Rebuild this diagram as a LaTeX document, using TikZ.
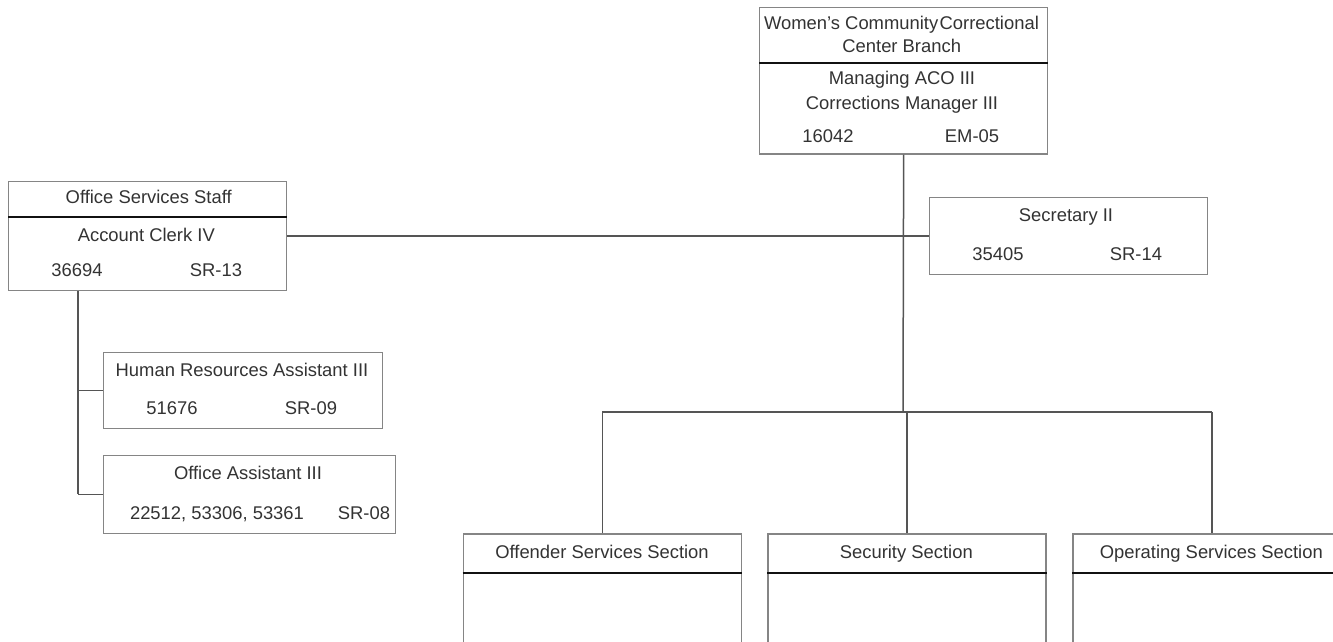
\documentclass[tikz,border=0pt]{standalone}
\usepackage{fontspec}
\setmainfont{Liberation Sans}
\definecolor{boxgray}{HTML}{858585}
\definecolor{linegray}{HTML}{555555}
\definecolor{textgray}{HTML}{333333}
\definecolor{divblack}{HTML}{111111}
\tikzset{
  box/.style={draw=boxgray, line width=1.3pt, rectangle, anchor=north west, inner sep=0pt, fill=white},
  txt/.style={font=\fontsize{18.4}{22}\selectfont, text=textgray, inner sep=0pt, anchor=base},
  conn/.style={draw=linegray, line width=1.5pt},
  divider/.style={draw=divblack, line width=2pt},
}
\begin{document}
\begin{tikzpicture}[x=1pt,y=-1pt]
\useasboundingbox (0,0) rectangle (1333,642);
\clip (0,0) rectangle (1333,642);
\fill[white] (0,0) rectangle (1333,642);

% coordinates
\coordinate (bus) at (903,412);
\coordinate (busL) at (602,412);
\coordinate (busR) at (1212,412);
\coordinate (ossx) at (78,290);
\coordinate (ossend) at (78,494);

% boxes
\node[box, minimum width=288pt, minimum height=146.6pt] (top) at (759,6.7) {};
\node[box, minimum width=278pt, minimum height=77pt] (sec) at (929,197) {};
\node[box, minimum width=278pt, minimum height=109pt] (oss) at (8,181) {};
\node[box, minimum width=279pt, minimum height=76pt] (hr) at (103,352) {};
\node[box, minimum width=292pt, minimum height=78pt] (oa) at (103,455) {};
\node[box, minimum width=278pt, minimum height=130pt] (off) at (462.7,533.3) {};
\node[box, minimum width=278pt, minimum height=130pt] (secu) at (767.3,533.3) {};
\node[box, minimum width=278pt, minimum height=130pt] (ops) at (1072.3,533.3) {};

% connectors
\draw[conn] (top.south) -- (bus);
\draw[conn] (sec.west) -- (sec.west -| bus);
\draw[conn] (oss.east) -- (oss.east -| bus);
\draw[conn, line width=1.2pt] (busL) -- (bus);
\draw[conn, line width=2pt] (bus) -- (busR);
\draw[conn] (off.north |- busL) -- (off.north);
\draw[conn] (secu.north |- busL) -- (secu.north);
\draw[conn] (ops.north |- busL) -- (ops.north);
\draw[conn] (oss.south -| ossx) -- (ossend);
\draw[conn] (hr.west -| ossx) -- (hr.west);
\draw[conn] (oa.west -| ossx) -- (oa.west);

% dividers
\draw[divider] ([yshift=-56pt]top.north west) -- ([yshift=-56pt]top.north east);
\draw[divider] ([yshift=-36.3pt]oss.north west) -- ([yshift=-36.3pt]oss.north east);
\draw[divider] ([yshift=-39.4pt]off.north west) -- ([yshift=-39.4pt]off.north east);
\draw[divider] ([yshift=-39.4pt]secu.north west) -- ([yshift=-39.4pt]secu.north east);
\draw[divider] ([yshift=-39.4pt]ops.north west) -- ([yshift=-39.4pt]ops.north east);

% texts: top box
\node[txt] (t1) at (901.5,29.3) {Women\symbol{39}s Community\hspace{-0.2em} Correctional};
\node[txt] (t2) at (901.7,52.6) {Center Branch};
\node[txt] (t3) at (902,84.6) {Managing ACO III};
\node[txt] (t4) at (902,109.3) {Corrections Manager III};
\node[txt] (t5) at (828,142.6) {16042};
\node[txt] (t6) at (972,142.6) {EM-05};
% secretary
\node[txt] (s1) at (1066,221.6) {Secretary II};
\node[txt] (s2) at (998,260.6) {35405};
\node[txt] (s3) at (1136,260.6) {SR-14};
% office services staff
\node[txt] (o1) at (148.7,203.6) {Office Services Staff};
\node[txt] (o2) at (146.3,241.6) {Account Clerk IV};
\node[txt] (o3) at (77,276.6) {36694};
\node[txt] (o4) at (216,276.6) {SR-13};
% HR
\node[txt] (h1) at (242,376.6) {Human Resources Assistant III};
\node[txt] (h2) at (172,414.6) {51676};
\node[txt] (h3) at (311,414.6) {SR-09};
% OA
\node[txt] (a1) at (248,479.6) {Office Assistant III};
\node[txt] (a2) at (217,519.6) {22512, 53306, 53361};
\node[txt] (a3) at (364,519.6) {SR-08};
% sections
\node[txt] (b1) at (602,558.6) {Offender Services Section};
\node[txt] (b2) at (906.3,558.6) {Security Section};
\node[txt] (b3) at (1211.3,558.6) {Operating Services Section};
\end{tikzpicture}
\end{document}
